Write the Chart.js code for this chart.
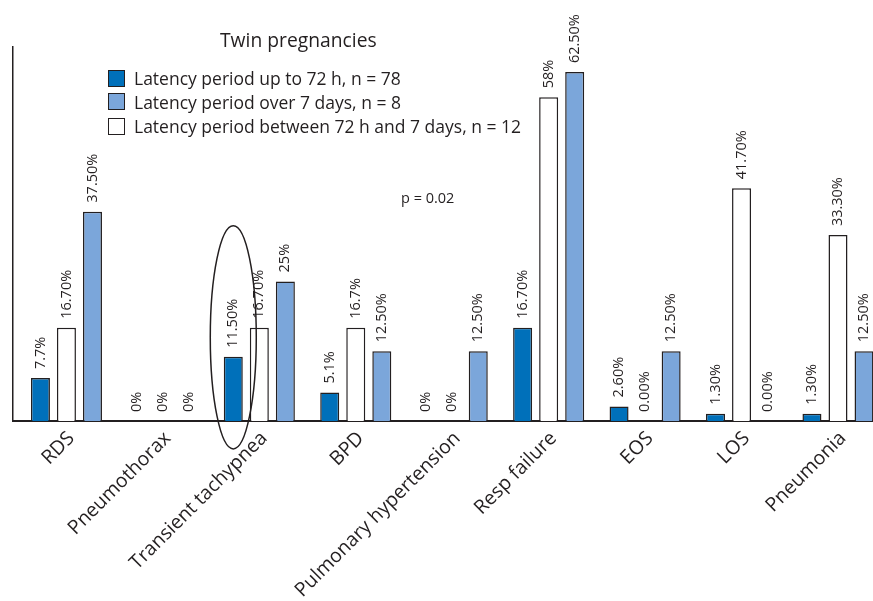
<!DOCTYPE html>
<html>
<head>
<meta charset="utf-8">
<script src="https://cdn.jsdelivr.net/npm/chart.js@4.4.1/dist/chart.umd.min.js"></script>
<style>
  html, body { margin: 0; padding: 0; background: #fff; overflow: hidden; }
  #wrap { position: relative; width: 873px; height: 601px; font-family: "Open Sans", sans-serif; color: #231f20; }
  canvas { position: absolute; left: 0; top: 0; }
  .ov { position: absolute; white-space: nowrap; line-height: 1; }
  #title { left: 220px; top: 30px; font-size: 19.3px; }
  #pval { left: 401px; top: 191px; font-size: 14.5px; }
  .leg { position: absolute; left: 108px; height: 18px; display: flex; align-items: center; font-size: 17.5px; white-space: nowrap; }
  .leg i { display: inline-block; width: 15px; height: 15px; border: 1.5px solid #231f20; margin-right: 9px; }
</style>
</head>
<body>
<div id="wrap">
  <canvas id="c" width="873" height="601"></canvas>
  <div id="title" class="ov"></div>
  <div id="pval" class="ov"></div>
  <div id="legend"></div>
</div>
<script>
// ---- data ----
const categories = ["RDS", "Pneumothorax", "Transient tachypnea", "BPD", "Pulmonary hypertension", "Resp failure", "EOS", "LOS", "Pneumonia"];
const seriesNames = ["Latency period up to 72 h, n = 78", "Latency period between 72 h and 7 days, n = 12", "Latency period over 7 days, n = 8"];
const upTo72h = [7.7, 0, 11.5, 5.1, 0, 16.7, 2.6, 1.3, 1.3];
const between72hAnd7d = [16.7, 0, 16.7, 16.7, 0, 58, 0, 41.7, 33.3];
const over7d = [37.5, 0, 25, 12.5, 12.5, 62.5, 12.5, 0, 12.5];
const upTo72hLabels = ["7.7%", "0%", "11.50%", "5.1%", "0%", "16.70%", "2.60%", "1.30%", "1.30%"];
const between72hAnd7dLabels = ["16.70%", "0%", "16.70%", "16.7%", "0%", "58%", "0.00%", "41.70%", "33.30%"];
const over7dLabels = ["37.50%", "0%", "25%", "12.50%", "12.50%", "62.50%", "12.50%", "0.00%", "12.50%"];
const legendOrder = [0, 2, 1];
const titleText = "Twin pregnancies";
const pText = "p = 0.02";

const INK = "#231f20";
const colors = ["#0070ba", "#ffffff", "#7ba6da"];
const valueSets = [upTo72h, between72hAnd7d, over7d];
const labelSets = [upTo72hLabels, between72hAnd7dLabels, over7dLabels];

document.getElementById("title").textContent = titleText;
document.getElementById("pval").textContent = pText;
const legTops = [69, 92.5, 117];
const legEl = document.getElementById("legend");
legendOrder.forEach((d, k) => {
  const row = document.createElement("div");
  row.className = "leg";
  row.style.top = legTops[k] + "px";
  const box = document.createElement("i");
  box.style.background = colors[d];
  row.appendChild(box);
  row.appendChild(document.createTextNode(seriesNames[d]));
  legEl.appendChild(row);
});

const datasets = valueSets.map((vals, d) => ({
  label: seriesNames[d],
  data: vals.map((v, i) => ({ x: i, y: v })),
  backgroundColor: colors[d],
  borderColor: INK,
  borderWidth: 1.5,
  borderSkipped: "start",
  categoryPercentage: 0.81,
  barPercentage: 0.73
}));

const valueLabels = {
  id: "valueLabels",
  afterDatasetsDraw(chart) {
    const ctx = chart.ctx;
    ctx.save();
    ctx.fillStyle = INK;
    ctx.font = "14.5px 'Open Sans', sans-serif";
    ctx.textAlign = "left";
    ctx.textBaseline = "middle";
    chart.data.datasets.forEach((ds, d) => {
      chart.getDatasetMeta(d).data.forEach((el, i) => {
        if (el.x > chart.chartArea.right) return;
        ctx.save();
        ctx.translate(el.x, el.y - 9);
        ctx.rotate(-Math.PI / 2);
        ctx.fillText(labelSets[d][i], 0, 0);
        ctx.restore();
      });
    });
    ctx.restore();
  }
};

const ellipse = {
  id: "ellipse",
  afterDatasetsDraw(chart) {
    const el = chart.getDatasetMeta(0).data[2];
    const ys = chart.scales.y;
    const top = ys.getPixelForValue(35), bot = ys.getPixelForValue(-5);
    const ctx = chart.ctx;
    ctx.save();
    ctx.strokeStyle = INK;
    ctx.lineWidth = 1.5;
    ctx.beginPath();
    ctx.ellipse(el.x, (top + bot) / 2, 23, (bot - top) / 2, 0, 0, Math.PI * 2);
    ctx.stroke();
    ctx.restore();
  }
};

new Chart(document.getElementById("c"), {
  type: "bar",
  data: { datasets },
  options: {
    responsive: false,
    animation: false,
    layout: { padding: { left: 13, right: 0, top: 47, bottom: 0 } },
    plugins: { legend: { display: false }, title: { display: false }, tooltip: { enabled: false } },
    scales: {
      x: {
        type: "linear",
        offset: false,
        min: -0.554,
        max: 8.363,
        grid: { display: false, drawTicks: false, offset: false },
        border: { display: true, color: INK, width: 2 },
        afterBuildTicks: (s) => { s.ticks = categories.map((c, i) => ({ value: i })); },
        afterFit: (s) => { s.height = 180; },
        ticks: {
          autoSkip: false,
          maxRotation: 45,
          minRotation: 45,
          padding: 6,
          labelOffset: 5,
          color: INK,
          font: { family: "'Open Sans', sans-serif", size: 19.5 },
          callback: (v) => categories[v]
        }
      },
      y: {
        min: 0,
        max: 67,
        grid: { display: false, drawTicks: false },
        border: { display: true, color: INK, width: 1.5 },
        ticks: { display: false },
        afterFit: (s) => { s.width = 0; }
      }
    }
  },
  plugins: [valueLabels, ellipse]
});
</script>
</body>
</html>
